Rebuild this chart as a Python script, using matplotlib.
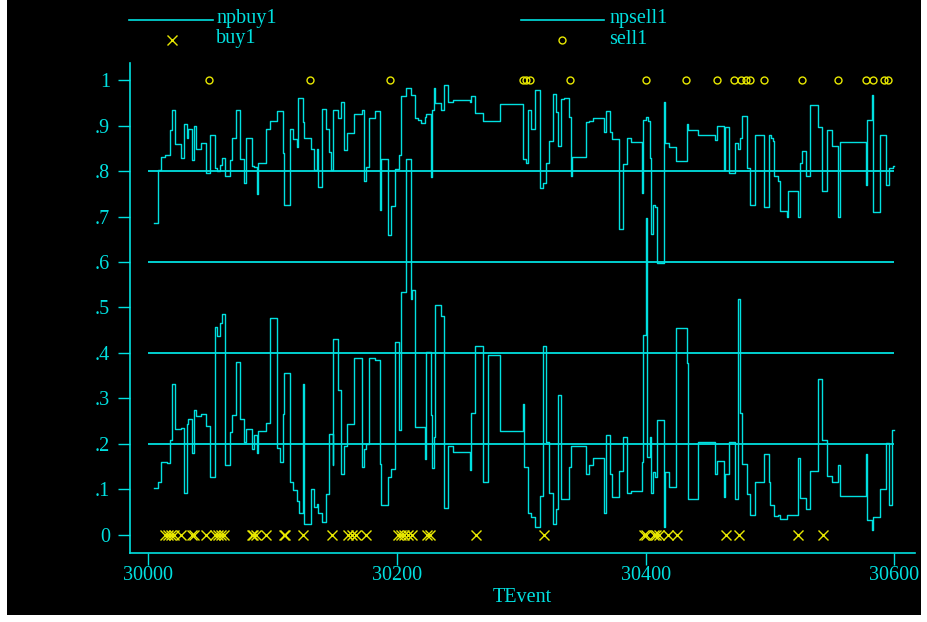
import matplotlib
matplotlib.use("Agg")
import matplotlib.pyplot as plt
from matplotlib.patches import Rectangle
from matplotlib.lines import Line2D

CYAN = "#00e0e0"
YELLOW = "#e8e800"
plt.rcParams["font.family"] = ["Liberation Serif", "DejaVu Serif"]

# npbuy1: step series (time, value)
buy_t = [30004.8, 30007.5, 30009.9, 30013.7, 30017.1, 30019.0, 30021.4, 30026.2, 30028.6, 30031.1,
         30032.1, 30034.8, 30036.4, 30038.6, 30042.3, 30046.1, 30049.5, 30053.3, 30055.2, 30057.6,
         30059.4, 30062.1, 30066.1, 30067.2, 30070.7, 30073.6, 30076.8, 30078.4, 30083.3, 30085.4,
         30087.6, 30088.1, 30094.5, 30098.0, 30103.3, 30108.2, 30109.5, 30114.3, 30116.7, 30119.4,
         30120.7, 30124.2, 30125.6, 30130.7, 30133.1, 30135.5, 30136.5, 30140.0, 30142.7, 30145.1,
         30147.0, 30148.9, 30152.3, 30155.0, 30157.7, 30160.1, 30165.2, 30171.6, 30173.5, 30174.8,
         30177.5, 30182.3, 30186.6, 30187.4, 30192.5, 30194.9, 30198.4, 30201.9, 30203.2, 30207.2,
         30211.0, 30214.7, 30217.1, 30219.0, 30222.2, 30223.3, 30227.3, 30228.4, 30229.5, 30230.8,
         30235.1, 30237.5, 30240.7, 30244.7, 30258.9, 30259.7, 30262.9, 30269.4, 30283.0, 30301.7,
         30303.4, 30305.0, 30307.6, 30311.1, 30315.1, 30317.8, 30320.2, 30322.6, 30325.3, 30328.0,
         30329.9, 30332.3, 30334.1, 30338.7, 30340.3, 30341.1, 30352.3, 30354.5, 30358.0, 30366.3,
         30368.4, 30371.1, 30372.7, 30378.6, 30382.1, 30384.7, 30388.5, 30397.3, 30398.1, 30400.0,
         30401.6, 30403.2, 30404.6, 30405.9, 30407.5, 30409.4, 30414.7, 30415.8, 30418.5, 30424.6,
         30433.2, 30434.3, 30442.0, 30455.4, 30457.3, 30462.9, 30463.5, 30466.7, 30471.8, 30474.2,
         30476.0, 30477.6, 30481.4, 30483.8, 30487.6, 30495.3, 30499.1, 30500.9, 30502.3, 30503.6,
         30506.3, 30508.4, 30513.8, 30514.6, 30522.9, 30524.5, 30526.1, 30528.8, 30532.3, 30538.4,
         30542.2, 30545.9, 30549.9, 30554.5, 30556.1, 30577.2, 30578.0, 30581.8, 30583.1, 30588.5,
         30593.0, 30595.7, 30598.7, 30599.5]
buy_v = [.685, .802, .831, .835, .890, .934, .859, .828, .903, .872,
         .892, .824, .900, .849, .862, .795, .879, .806, .800, .813,
         .828, .790, .824, .872, .934, .826, .773, .872, .811, .808,
         .749, .818, .893, .910, .932, .839, .725, .892, .870, .853,
         .961, .907, .872, .849, .802, .849, .764, .936, .893, .842,
         .802, .934, .916, .951, .846, .884, .925, .934, .778, .808,
         .917, .932, .714, .826, .659, .723, .804, .835, .965, .982,
         .967, .916, .912, .905, .919, .926, .786, .934, .982, .949,
         .934, .989, .951, .955, .951, .965, .928, .910, .948, .826,
         .817, .934, .893, .978, .762, .774, .818, .866, .969, .930,
         .855, .958, .961, .919, .788, .831, .907, .910, .917, .885,
         .932, .886, .870, .672, .815, .873, .863, .751, .912, .919,
         .910, .828, .661, .725, .721, .597, .951, .862, .852, .822,
         .903, .890, .879, .868, .900, .802, .896, .795, .862, .848,
         .872, .920, .807, .725, .879, .720, .879, .872, .866, .790,
         .778, .712, .700, .757, .700, .818, .845, .790, .944, .896,
         .757, .890, .855, .700, .863, .769, .912, .966, .709, .879,
         .770, .807, .811, .811]

# npsell1: step series (time, value)
sell_t = [30004.8, 30007.5, 30009.9, 30014.7, 30017.1, 30019.0, 30021.4, 30026.2, 30028.6, 30031.1,
          30032.1, 30034.8, 30036.4, 30038.6, 30042.3, 30046.1, 30049.5, 30053.3, 30055.2, 30057.6,
          30059.4, 30062.1, 30066.1, 30067.2, 30070.7, 30073.6, 30076.8, 30078.4, 30083.3, 30085.4,
          30087.6, 30088.1, 30094.5, 30098.0, 30103.3, 30105.8, 30108.2, 30109.5, 30114.3, 30116.7,
          30119.4, 30121.0, 30124.2, 30125.0, 30130.7, 30133.1, 30135.5, 30136.5, 30140.0, 30142.7,
          30145.1, 30148.3, 30148.9, 30152.3, 30155.0, 30157.7, 30160.1, 30165.2, 30171.6, 30173.5,
          30174.8, 30177.5, 30182.3, 30186.6, 30187.4, 30192.5, 30194.9, 30198.7, 30201.9, 30203.2,
          30207.2, 30211.0, 30211.8, 30214.7, 30222.2, 30223.3, 30227.3, 30228.4, 30229.5, 30230.8,
          30235.1, 30237.5, 30240.7, 30244.7, 30258.9, 30259.7, 30262.9, 30269.4, 30273.4, 30283.0,
          30301.7, 30302.3, 30305.0, 30307.6, 30311.1, 30315.1, 30317.8, 30320.2, 30322.6, 30325.3,
          30328.0, 30329.9, 30332.3, 30338.7, 30340.3, 30352.3, 30354.5, 30358.0, 30366.3, 30368.4,
          30371.1, 30372.7, 30378.6, 30382.1, 30384.7, 30388.5, 30397.3, 30398.1, 30400.0, 30400.8,
          30403.2, 30404.6, 30405.9, 30407.5, 30409.4, 30414.7, 30415.8, 30418.5, 30424.6, 30433.2,
          30434.3, 30442.0, 30455.4, 30457.3, 30462.9, 30463.5, 30466.7, 30471.8, 30474.2, 30476.0,
          30477.6, 30481.4, 30483.8, 30487.6, 30495.3, 30499.1, 30500.1, 30503.1, 30506.3, 30508.4,
          30513.8, 30522.9, 30524.5, 30528.8, 30532.3, 30538.4, 30542.2, 30545.9, 30549.9, 30554.5,
          30556.1, 30577.2, 30578.0, 30581.8, 30583.1, 30588.5, 30593.0, 30595.7, 30598.1, 30599.5]
sell_v = [.103, .117, .161, .159, .209, .332, .232, .236, .093, .244,
          .256, .181, .275, .262, .267, .240, .127, .458, .437, .465,
          .486, .154, .226, .264, .380, .256, .205, .233, .190, .220,
          .181, .229, .247, .478, .192, .160, .266, .357, .117, .099,
          .075, .049, .332, .024, .100, .061, .068, .049, .028, .090,
          .222, .153, .431, .318, .134, .196, .244, .390, .150, .190,
          .200, .390, .385, .156, .066, .127, .145, .424, .231, .533,
          .826, .518, .538, .237, .167, .402, .264, .147, .215, .506,
          .482, .059, .196, .182, .143, .268, .416, .117, .396, .229,
          .288, .150, .049, .040, .018, .086, .416, .205, .093, .024,
          .057, .308, .079, .150, .196, .134, .154, .169, .048, .220,
          .135, .083, .141, .215, .093, .097, .161, .440, .697, .172,
          .215, .093, .139, .128, .253, .017, .138, .106, .454, .379,
          .078, .205, .134, .163, .084, .134, .205, .078, .519, .268,
          .157, .090, .044, .117, .179, .117, .067, .042, .045, .035,
          .045, .169, .081, .057, .141, .342, .209, .130, .117, .154,
          .086, .179, .034, .011, .039, .100, .203, .066, .231, .231]

# buy1 / sell1 event times
buy_events = [30013.7, 30015.8, 30018.5, 30020.3, 30026.5, 30035.1, 30036.7, 30046.3, 30053.8, 30056.0,
              30058.1, 30060.8, 30083.3, 30084.6, 30086.5, 30094.5, 30109.0, 30110.0, 30124.5, 30148.1,
              30160.4, 30164.1, 30166.8, 30175.4, 30200.5, 30203.2, 30205.9, 30208.6, 30211.8, 30223.8,
              30226.5, 30263.5, 30318.1, 30398.7, 30400.6, 30406.7, 30408.6, 30410.4, 30417.9, 30425.2,
              30464.3, 30474.7, 30522.9, 30542.4]
sell_events = [30049.2, 30129.9, 30194.6, 30301.0, 30303.6, 30306.8, 30339.5, 30400.4, 30432.7, 30457.3,
               30470.9, 30476.3, 30480.7, 30483.7, 30494.8, 30525.5, 30554.4, 30577.3, 30582.7, 30592.0,
               30594.9]

grid_levels = [0.2, 0.4, 0.6, 0.8]
x_ticks = [30000, 30200, 30400, 30600]
y_ticks = [0, .1, .2, .3, .4, .5, .6, .7, .8, .9, 1]

W, H = 928, 622
fig = plt.figure(figsize=(W / 100, H / 100), dpi=100, facecolor="white")
fig.patches.append(Rectangle((7 / W, 7 / H), 914 / W, 1 - 7 / H, transform=fig.transFigure,
                             facecolor="black", edgecolor="none", zorder=-10))

ax = fig.add_axes([130 / W, 1 - 553 / H, 785 / W, 490 / H])
ax.set_zorder(5)
ax.patch.set_alpha(0)

ax.hlines(grid_levels, 30000, 30600, color=CYAN, lw=1.3, zorder=1)
ax.plot(buy_t, buy_v, drawstyle="steps-post", color=CYAN, lw=1.0, zorder=2)
ax.plot(sell_t, sell_v, drawstyle="steps-post", color=CYAN, lw=1.0, zorder=2)
ax.plot(buy_events, [0] * len(buy_events), ls="none", marker="x", ms=7, mew=1.0, color=YELLOW, zorder=3)
ax.plot(sell_events, [1] * len(sell_events), ls="none", marker="o", ms=5, mew=1.0,
        mfc="none", mec=YELLOW, zorder=3)

ax.set_xlim(29985.3, 30616.6)
ax.set_ylim(-0.0396, 1.0374)
ax.set_xticks(x_ticks)
ax.set_yticks(y_ticks)
ax.set_yticklabels(["0" if v == 0 else "1" if v == 1 else ("%.1f" % v)[1:] for v in y_ticks])
ax.tick_params(axis="both", colors=CYAN, labelcolor=CYAN, direction="out", length=8.5, width=1.0,
               labelsize=14.5)
ax.tick_params(axis="y", pad=6)
ax.tick_params(axis="x", pad=1)
for side in ["top", "right"]:
    ax.spines[side].set_visible(False)
for side in ["left", "bottom"]:
    ax.spines[side].set_color(CYAN)
    ax.spines[side].set_linewidth(1.2)
ax.set_xlabel("TEvent", color=CYAN, fontsize=14.5, labelpad=2)

# legend drawn in figure pixels
def fx(px):
    return px / W

def fy(py):
    return 1 - py / H

fig.add_artist(Line2D([fx(129), fx(213)], [fy(20), fy(20)], color=CYAN, lw=1.2))
fig.add_artist(Line2D([fx(521), fx(604)], [fy(20), fy(20)], color=CYAN, lw=1.2))
fig.add_artist(Line2D([fx(172)], [fy(40)], ls="none", marker="x", ms=7, mew=1.0, color=YELLOW))
fig.add_artist(Line2D([fx(562)], [fy(40)], ls="none", marker="o", ms=5, mew=1.0, mfc="none", mec=YELLOW))
for px, py, s in [(216, 18, "npbuy1"), (216, 39, "buy1"), (609, 18, "npsell1"), (609, 39, "sell1")]:
    fig.text(fx(px), fy(py), s, color=CYAN, fontsize=14.5, ha="left", va="center")

fig.savefig("out.png", dpi=100, facecolor=fig.get_facecolor())
